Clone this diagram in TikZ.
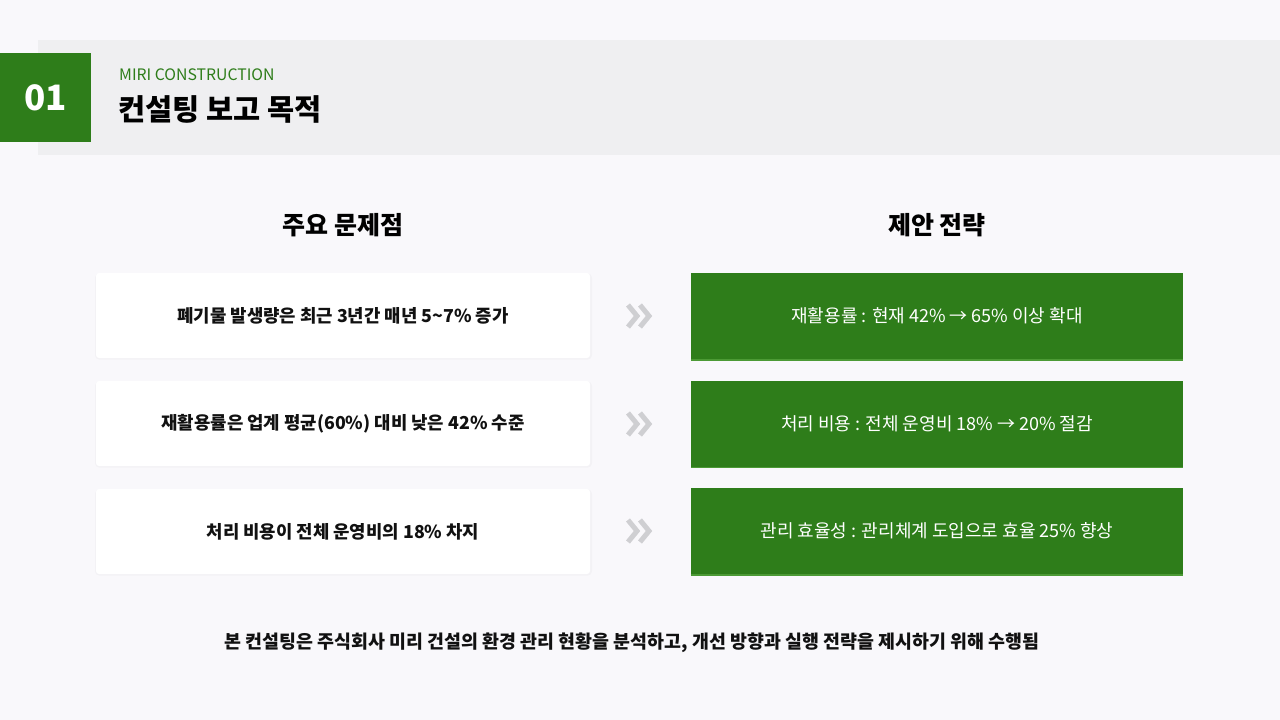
\documentclass[tikz,border=0pt]{standalone}
\usepackage{fontspec}
\setmainfont{Noto Sans CJK KR}
\definecolor{bg}{HTML}{F9F8FB}
\definecolor{band}{HTML}{EFEFF1}
\definecolor{mgreen}{HTML}{2E7D1A}
\definecolor{lgreen}{HTML}{4C9A35}
\definecolor{chev}{HTML}{CFCFD2}
\definecolor{ink}{HTML}{111111}
\tikzset{
  probbox/.style={fill=white, minimum width=494pt, minimum height=85pt, rounded corners=3pt, inner sep=0pt, font=\fontsize{17.8}{20}\selectfont\bfseries, text=ink},
  stratbox/.style={fill=mgreen, minimum width=492pt, minimum height=86pt, inner sep=0pt, font=\fontsize{18}{20}\selectfont, text=white},
  chevline/.style={draw=chev, line width=5pt, miter limit=10},
  colhead/.style={font=\fontsize{25}{28}\selectfont\bfseries, text=black}
}
\begin{document}
\begin{tikzpicture}[x=1pt,y=-1pt]
\useasboundingbox (0,0) rectangle (1280,720);
\fill[bg] (0,0) rectangle (1280,720);
% header band
\fill[band] (38,40) rectangle (1280,155);
\fill[mgreen] (0,53) rectangle (91,142);
\node[text=white, font=\fontsize{35}{38}\selectfont\bfseries] (num) at (45.5,98) {01};
\node[anchor=west, text=mgreen, font=\fontsize{15.8}{18}\selectfont, inner sep=0pt] (brand) at (119,75) {MIRI CONSTRUCTION};
\node[anchor=west, text=black, font=\fontsize{29.5}{34}\selectfont\bfseries, inner sep=0pt] (title) at (118,109) {컨설팅 보고 목적};
% column headings
\node[colhead] (h1) at (343,225) {주요 문제점};
\node[colhead] (h2) at (937,225) {제안 전략};
% shadows
\foreach \y in {315.5,423.5,531.5}{
  \fill[black, opacity=0.025, rounded corners=4pt] (95,\y-42.5+0.5) rectangle (592,\y+42.5+1.5);
}
% problem boxes
\node[probbox] (p1) at (343,315.5) {폐기물 발생량은 최근 3년간 매년 5\textasciitilde 7\% 증가};
\node[probbox] (p2) at (343,423.5) {재활용률은 업계 평균(60\%) 대비 낮은 42\% 수준};
\node[probbox] (p3) at (343,531.5) {처리 비용이 전체 운영비의 18\% 차지};
% strategy boxes
\node[stratbox] (s1) at (937,316) {재활용률 : 현재 42\% → 65\% 이상 확대};
\node[stratbox] (s2) at (937,423.5) {처리 비용 : 전체 운영비 18\% → 20\% 절감};
\node[stratbox] (s3) at (937,531) {관리 효율성 : 관리체계 도입으로 효율 25\% 향상};
\foreach \n in {s1,s2,s3}{
  \draw[lgreen, line width=1.5pt] ([yshift=-0.75pt]\n.south west) -- ([yshift=-0.75pt]\n.south east);
}
% chevrons
\foreach \y/\n in {316/c1,424/c2,531/c3}{
  \coordinate (\n) at (640,\y);
  \draw[chevline] ([xshift=-12pt,yshift=-11pt]\n) -- ([xshift=-3pt]\n) -- ([xshift=-12pt,yshift=11pt]\n);
  \draw[chevline] ([xshift=0pt,yshift=-11pt]\n) -- ([xshift=9pt]\n) -- ([xshift=0pt,yshift=11pt]\n);
}
% footer
\node[text=ink, font=\fontsize{18.4}{21}\selectfont\bfseries] (foot) at (632,643) {본 컨설팅은 주식회사 미리 건설의 환경 관리 현황을 분석하고, 개선 방향과 실행 전략을 제시하기 위해 수행됨};
\end{tikzpicture}
\end{document}
